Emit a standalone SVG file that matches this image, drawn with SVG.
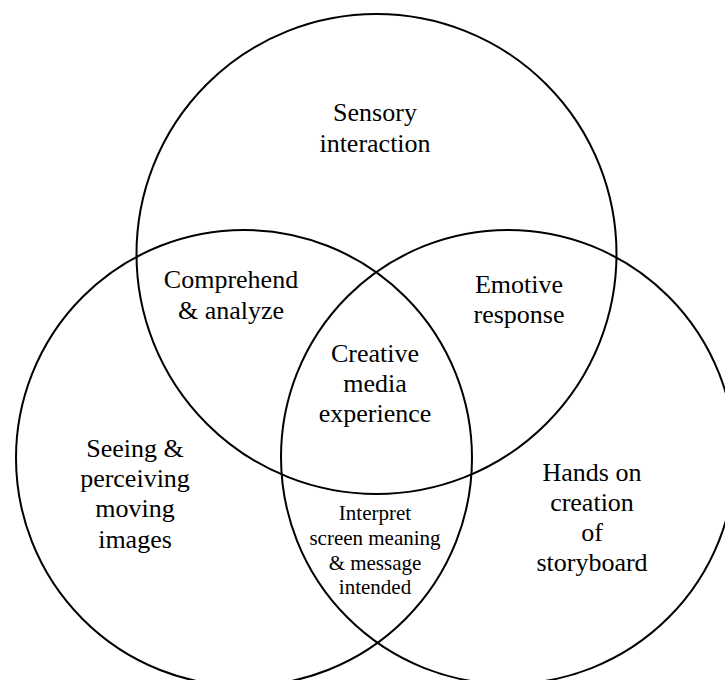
<svg xmlns="http://www.w3.org/2000/svg" width="725" height="680" viewBox="0 0 725 680">
  <style>
    .ring { fill: none; stroke: #000; stroke-width: 2; }
    .lbl { font-family: "Liberation Serif", "Times New Roman", serif; font-size: 26px; fill: #000; text-anchor: middle; }
    .lbl-sm { font-family: "Liberation Serif", "Times New Roman", serif; font-size: 21px; fill: #000; text-anchor: middle; }
  </style>
  <rect width="725" height="680" fill="#fff"/>

  <!-- the three overlapping sets -->
  <g id="connectors">
    <circle id="set-sensory" class="ring" cx="376.5" cy="254" r="240"/>
    <circle id="set-seeing" class="ring" cx="244" cy="458" r="228"/>
    <circle id="set-hands" class="ring" cx="508" cy="457" r="227"/>
  </g>

  <g id="sensory-interaction">
    <text class="lbl" x="375" y="121">Sensory</text>
    <text class="lbl" x="375" y="152">interaction</text>
  </g>

  <g id="comprehend-analyze">
    <text class="lbl" x="231" y="288">Comprehend</text>
    <text class="lbl" x="231" y="319">&amp; analyze</text>
  </g>

  <g id="emotive-response">
    <text class="lbl" x="519" y="293">Emotive</text>
    <text class="lbl" x="519" y="323">response</text>
  </g>

  <g id="creative-media-experience">
    <text class="lbl" x="375" y="362">Creative</text>
    <text class="lbl" x="375" y="392">media</text>
    <text class="lbl" x="375" y="422">experience</text>
  </g>

  <g id="seeing-perceiving">
    <text class="lbl" x="135" y="457">Seeing &amp;</text>
    <text class="lbl" x="135" y="487">perceiving</text>
    <text class="lbl" x="135" y="517">moving</text>
    <text class="lbl" x="135" y="548">images</text>
  </g>

  <g id="hands-on-creation">
    <text class="lbl" x="592" y="481">Hands on</text>
    <text class="lbl" x="592" y="511">creation</text>
    <text class="lbl" x="592" y="541">of</text>
    <text class="lbl" x="592" y="571">storyboard</text>
  </g>

  <g id="interpret-screen-meaning">
    <text class="lbl-sm" x="375" y="520">Interpret</text>
    <text class="lbl-sm" x="375" y="545">screen meaning</text>
    <text class="lbl-sm" x="375" y="570">&amp; message</text>
    <text class="lbl-sm" x="375" y="594">intended</text>
  </g>
</svg>
